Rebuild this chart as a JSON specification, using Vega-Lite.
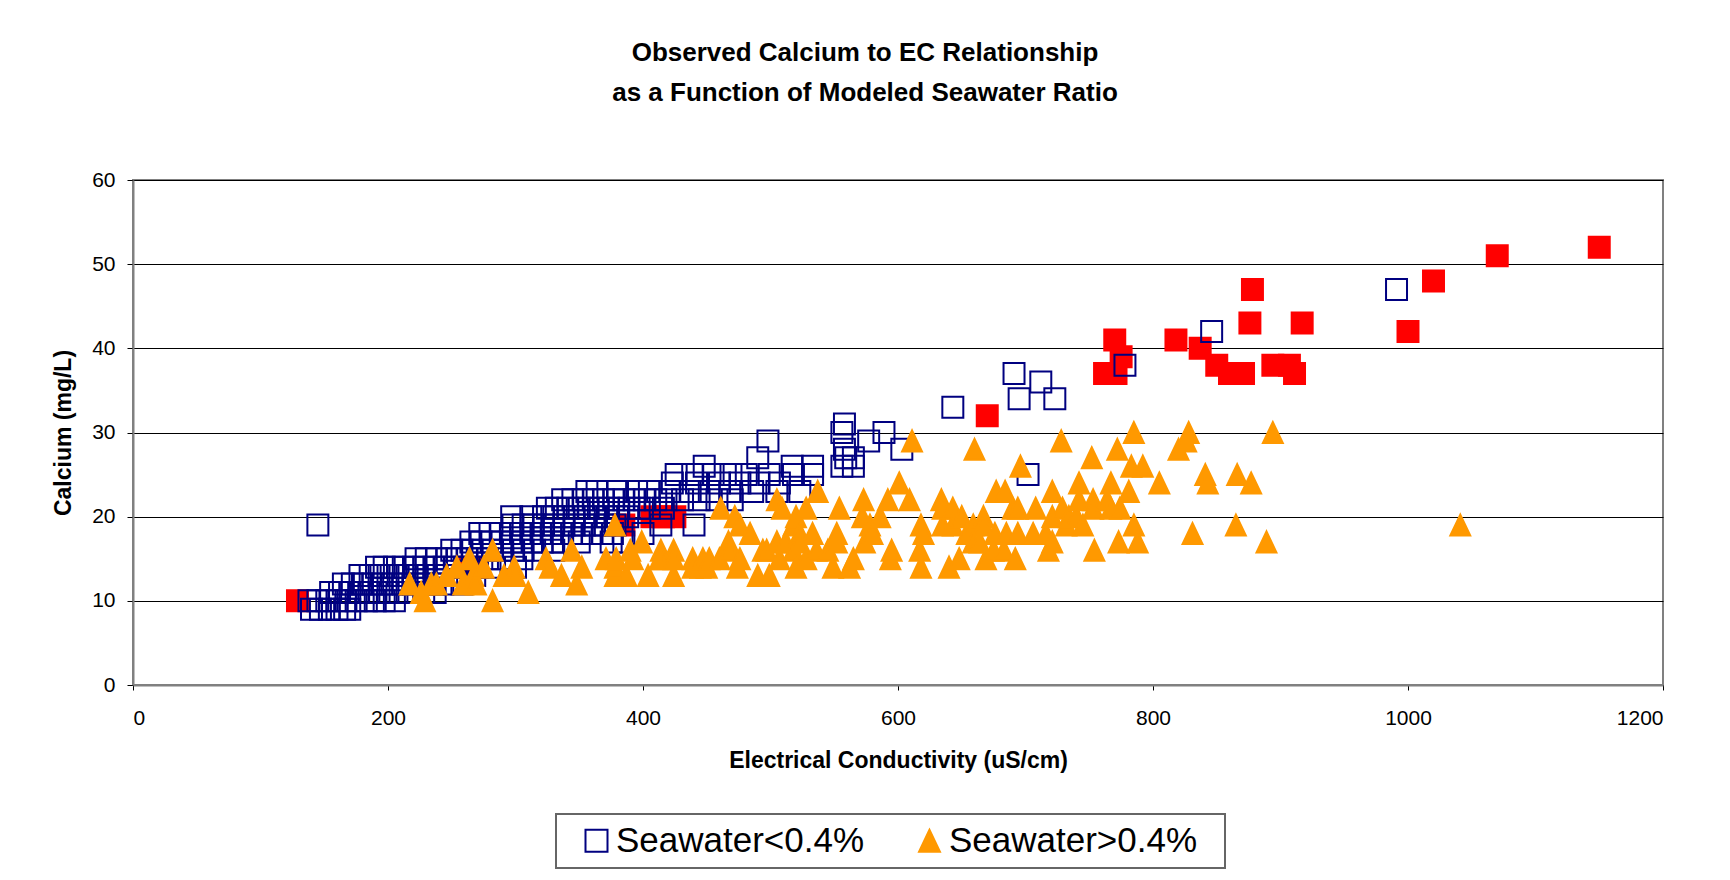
{
  "$schema": "https://vega.github.io/schema/vega-lite/v6.json",
  "width": 1530,
  "height": 505,
  "autosize": {"type": "none"},
  "padding": {"left": 133, "top": 180, "right": 67, "bottom": 195},
  "background": "white",
  "title": {
    "text": ["Observed Calcium to EC Relationship", "as a Function of Modeled Seawater Ratio"],
    "font": "Liberation Sans", "fontSize": 26, "fontWeight": "bold", "color": "#000000",
    "anchor": "middle", "frame": "group", "lineHeight": 40, "dx": -33, "offset": 63
  },
  "data": {"values": [
    {"s":"Other","ec":129,"ca":10},{"s":"Other","ec":264,"ca":14},{"s":"Other","ec":385,"ca":19},{"s":"Other","ec":407,"ca":20},{"s":"Other","ec":416,"ca":20},{"s":"Other","ec":425,"ca":20},{"s":"Other","ec":670,"ca":32},{"s":"Other","ec":762,"ca":37},{"s":"Other","ec":771,"ca":37},{"s":"Other","ec":770,"ca":41},{"s":"Other","ec":775,"ca":39},{"s":"Other","ec":818,"ca":41},{"s":"Other","ec":837,"ca":40},{"s":"Other","ec":850,"ca":38},{"s":"Other","ec":860,"ca":37},{"s":"Other","ec":871,"ca":37},{"s":"Other","ec":876,"ca":43},{"s":"Other","ec":878,"ca":47},{"s":"Other","ec":894,"ca":38},{"s":"Other","ec":907,"ca":38},{"s":"Other","ec":911,"ca":37},{"s":"Other","ec":917,"ca":43},{"s":"Other","ec":1000,"ca":42},{"s":"Other","ec":1020,"ca":48},{"s":"Other","ec":1070,"ca":51},{"s":"Other","ec":1150,"ca":52},
    {"s":"Seawater<0.4%","ec":140,"ca":9},{"s":"Seawater<0.4%","ec":147,"ca":9},{"s":"Seawater<0.4%","ec":154,"ca":9},{"s":"Seawater<0.4%","ec":160,"ca":9},{"s":"Seawater<0.4%","ec":166,"ca":9},{"s":"Seawater<0.4%","ec":170,"ca":9},
    {"s":"Seawater<0.4%","ec":138,"ca":10},{"s":"Seawater<0.4%","ec":145,"ca":10},{"s":"Seawater<0.4%","ec":152,"ca":10},{"s":"Seawater<0.4%","ec":160,"ca":10},{"s":"Seawater<0.4%","ec":167,"ca":10},{"s":"Seawater<0.4%","ec":175,"ca":10},{"s":"Seawater<0.4%","ec":183,"ca":10},{"s":"Seawater<0.4%","ec":190,"ca":10},{"s":"Seawater<0.4%","ec":197,"ca":10},{"s":"Seawater<0.4%","ec":205,"ca":10},
    {"s":"Seawater<0.4%","ec":155,"ca":11},{"s":"Seawater<0.4%","ec":162,"ca":11},{"s":"Seawater<0.4%","ec":170,"ca":11},{"s":"Seawater<0.4%","ec":177,"ca":11},{"s":"Seawater<0.4%","ec":185,"ca":11},{"s":"Seawater<0.4%","ec":193,"ca":11},{"s":"Seawater<0.4%","ec":200,"ca":11},{"s":"Seawater<0.4%","ec":207,"ca":11},{"s":"Seawater<0.4%","ec":215,"ca":11},{"s":"Seawater<0.4%","ec":228,"ca":11},{"s":"Seawater<0.4%","ec":237,"ca":11},
    {"s":"Seawater<0.4%","ec":165,"ca":12},{"s":"Seawater<0.4%","ec":172,"ca":12},{"s":"Seawater<0.4%","ec":180,"ca":12},{"s":"Seawater<0.4%","ec":188,"ca":12},{"s":"Seawater<0.4%","ec":195,"ca":12},{"s":"Seawater<0.4%","ec":203,"ca":12},{"s":"Seawater<0.4%","ec":212,"ca":12},{"s":"Seawater<0.4%","ec":220,"ca":12},{"s":"Seawater<0.4%","ec":228,"ca":12},{"s":"Seawater<0.4%","ec":236,"ca":12},{"s":"Seawater<0.4%","ec":243,"ca":12},{"s":"Seawater<0.4%","ec":258,"ca":12},
    {"s":"Seawater<0.4%","ec":178,"ca":13},{"s":"Seawater<0.4%","ec":186,"ca":13},{"s":"Seawater<0.4%","ec":193,"ca":13},{"s":"Seawater<0.4%","ec":200,"ca":13},{"s":"Seawater<0.4%","ec":208,"ca":13},{"s":"Seawater<0.4%","ec":215,"ca":13},{"s":"Seawater<0.4%","ec":223,"ca":13},{"s":"Seawater<0.4%","ec":230,"ca":13},{"s":"Seawater<0.4%","ec":238,"ca":13},{"s":"Seawater<0.4%","ec":246,"ca":13},{"s":"Seawater<0.4%","ec":255,"ca":13},{"s":"Seawater<0.4%","ec":268,"ca":13},
    {"s":"Seawater<0.4%","ec":191,"ca":14},{"s":"Seawater<0.4%","ec":197,"ca":14},{"s":"Seawater<0.4%","ec":205,"ca":14},{"s":"Seawater<0.4%","ec":212,"ca":14},{"s":"Seawater<0.4%","ec":220,"ca":14},{"s":"Seawater<0.4%","ec":228,"ca":14},{"s":"Seawater<0.4%","ec":236,"ca":14},{"s":"Seawater<0.4%","ec":244,"ca":14},{"s":"Seawater<0.4%","ec":252,"ca":14},{"s":"Seawater<0.4%","ec":260,"ca":14},{"s":"Seawater<0.4%","ec":270,"ca":14},{"s":"Seawater<0.4%","ec":280,"ca":14},{"s":"Seawater<0.4%","ec":300,"ca":14},
    {"s":"Seawater<0.4%","ec":222,"ca":15},{"s":"Seawater<0.4%","ec":230,"ca":15},{"s":"Seawater<0.4%","ec":238,"ca":15},{"s":"Seawater<0.4%","ec":246,"ca":15},{"s":"Seawater<0.4%","ec":254,"ca":15},{"s":"Seawater<0.4%","ec":262,"ca":15},{"s":"Seawater<0.4%","ec":270,"ca":15},{"s":"Seawater<0.4%","ec":278,"ca":15},{"s":"Seawater<0.4%","ec":290,"ca":15},{"s":"Seawater<0.4%","ec":305,"ca":15},
    {"s":"Seawater<0.4%","ec":250,"ca":16},{"s":"Seawater<0.4%","ec":258,"ca":16},{"s":"Seawater<0.4%","ec":266,"ca":16},{"s":"Seawater<0.4%","ec":274,"ca":16},{"s":"Seawater<0.4%","ec":282,"ca":16},{"s":"Seawater<0.4%","ec":290,"ca":16},{"s":"Seawater<0.4%","ec":298,"ca":16},{"s":"Seawater<0.4%","ec":306,"ca":16},{"s":"Seawater<0.4%","ec":315,"ca":16},{"s":"Seawater<0.4%","ec":330,"ca":16},
    {"s":"Seawater<0.4%","ec":265,"ca":17},{"s":"Seawater<0.4%","ec":273,"ca":17},{"s":"Seawater<0.4%","ec":281,"ca":17},{"s":"Seawater<0.4%","ec":289,"ca":17},{"s":"Seawater<0.4%","ec":297,"ca":17},{"s":"Seawater<0.4%","ec":305,"ca":17},{"s":"Seawater<0.4%","ec":313,"ca":17},{"s":"Seawater<0.4%","ec":321,"ca":17},{"s":"Seawater<0.4%","ec":329,"ca":17},{"s":"Seawater<0.4%","ec":337,"ca":17},{"s":"Seawater<0.4%","ec":350,"ca":17},{"s":"Seawater<0.4%","ec":375,"ca":17},{"s":"Seawater<0.4%","ec":385,"ca":17},
    {"s":"Seawater<0.4%","ec":272,"ca":18},{"s":"Seawater<0.4%","ec":280,"ca":18},{"s":"Seawater<0.4%","ec":288,"ca":18},{"s":"Seawater<0.4%","ec":296,"ca":18},{"s":"Seawater<0.4%","ec":304,"ca":18},{"s":"Seawater<0.4%","ec":312,"ca":18},{"s":"Seawater<0.4%","ec":320,"ca":18},{"s":"Seawater<0.4%","ec":328,"ca":18},{"s":"Seawater<0.4%","ec":336,"ca":18},{"s":"Seawater<0.4%","ec":344,"ca":18},{"s":"Seawater<0.4%","ec":352,"ca":18},{"s":"Seawater<0.4%","ec":360,"ca":18},{"s":"Seawater<0.4%","ec":368,"ca":18},{"s":"Seawater<0.4%","ec":376,"ca":18},{"s":"Seawater<0.4%","ec":400,"ca":18},
    {"s":"Seawater<0.4%","ec":145,"ca":19},{"s":"Seawater<0.4%","ec":298,"ca":19},{"s":"Seawater<0.4%","ec":306,"ca":19},{"s":"Seawater<0.4%","ec":314,"ca":19},{"s":"Seawater<0.4%","ec":322,"ca":19},{"s":"Seawater<0.4%","ec":330,"ca":19},{"s":"Seawater<0.4%","ec":338,"ca":19},{"s":"Seawater<0.4%","ec":346,"ca":19},{"s":"Seawater<0.4%","ec":354,"ca":19},{"s":"Seawater<0.4%","ec":362,"ca":19},{"s":"Seawater<0.4%","ec":370,"ca":19},{"s":"Seawater<0.4%","ec":378,"ca":19},{"s":"Seawater<0.4%","ec":414,"ca":19},{"s":"Seawater<0.4%","ec":440,"ca":19},
    {"s":"Seawater<0.4%","ec":297,"ca":20},{"s":"Seawater<0.4%","ec":312,"ca":20},{"s":"Seawater<0.4%","ec":322,"ca":20},{"s":"Seawater<0.4%","ec":330,"ca":20},{"s":"Seawater<0.4%","ec":338,"ca":20},{"s":"Seawater<0.4%","ec":346,"ca":20},{"s":"Seawater<0.4%","ec":354,"ca":20},{"s":"Seawater<0.4%","ec":362,"ca":20},{"s":"Seawater<0.4%","ec":372,"ca":20},{"s":"Seawater<0.4%","ec":380,"ca":20},{"s":"Seawater<0.4%","ec":388,"ca":20},
    {"s":"Seawater<0.4%","ec":325,"ca":21},{"s":"Seawater<0.4%","ec":332,"ca":21},{"s":"Seawater<0.4%","ec":341,"ca":21},{"s":"Seawater<0.4%","ec":350,"ca":21},{"s":"Seawater<0.4%","ec":357,"ca":21},{"s":"Seawater<0.4%","ec":365,"ca":21},{"s":"Seawater<0.4%","ec":373,"ca":21},{"s":"Seawater<0.4%","ec":381,"ca":21},{"s":"Seawater<0.4%","ec":389,"ca":21},{"s":"Seawater<0.4%","ec":397,"ca":21},{"s":"Seawater<0.4%","ec":405,"ca":21},{"s":"Seawater<0.4%","ec":416,"ca":21},
    {"s":"Seawater<0.4%","ec":337,"ca":22},{"s":"Seawater<0.4%","ec":345,"ca":22},{"s":"Seawater<0.4%","ec":353,"ca":22},{"s":"Seawater<0.4%","ec":361,"ca":22},{"s":"Seawater<0.4%","ec":369,"ca":22},{"s":"Seawater<0.4%","ec":377,"ca":22},{"s":"Seawater<0.4%","ec":385,"ca":22},{"s":"Seawater<0.4%","ec":393,"ca":22},{"s":"Seawater<0.4%","ec":401,"ca":22},{"s":"Seawater<0.4%","ec":410,"ca":22},{"s":"Seawater<0.4%","ec":418,"ca":22},{"s":"Seawater<0.4%","ec":431,"ca":22},{"s":"Seawater<0.4%","ec":444,"ca":22},{"s":"Seawater<0.4%","ec":458,"ca":22},{"s":"Seawater<0.4%","ec":470,"ca":22},
    {"s":"Seawater<0.4%","ec":356,"ca":23},{"s":"Seawater<0.4%","ec":364,"ca":23},{"s":"Seawater<0.4%","ec":380,"ca":23},{"s":"Seawater<0.4%","ec":395,"ca":23},{"s":"Seawater<0.4%","ec":405,"ca":23},{"s":"Seawater<0.4%","ec":421,"ca":23},{"s":"Seawater<0.4%","ec":437,"ca":23},{"s":"Seawater<0.4%","ec":452,"ca":23},{"s":"Seawater<0.4%","ec":468,"ca":23},{"s":"Seawater<0.4%","ec":486,"ca":23},{"s":"Seawater<0.4%","ec":505,"ca":23},{"s":"Seawater<0.4%","ec":523,"ca":23},
    {"s":"Seawater<0.4%","ec":423,"ca":24},{"s":"Seawater<0.4%","ec":442,"ca":24},{"s":"Seawater<0.4%","ec":460,"ca":24},{"s":"Seawater<0.4%","ec":476,"ca":24},{"s":"Seawater<0.4%","ec":491,"ca":24},{"s":"Seawater<0.4%","ec":507,"ca":24},
    {"s":"Seawater<0.4%","ec":426,"ca":25},{"s":"Seawater<0.4%","ec":439,"ca":25},{"s":"Seawater<0.4%","ec":455,"ca":25},{"s":"Seawater<0.4%","ec":469,"ca":25},{"s":"Seawater<0.4%","ec":481,"ca":25},{"s":"Seawater<0.4%","ec":499,"ca":25},{"s":"Seawater<0.4%","ec":518,"ca":25},{"s":"Seawater<0.4%","ec":533,"ca":25},{"s":"Seawater<0.4%","ec":702,"ca":25},
    {"s":"Seawater<0.4%","ec":448,"ca":26},{"s":"Seawater<0.4%","ec":517,"ca":26},{"s":"Seawater<0.4%","ec":533,"ca":26},{"s":"Seawater<0.4%","ec":556,"ca":26},{"s":"Seawater<0.4%","ec":565,"ca":26},
    {"s":"Seawater<0.4%","ec":490,"ca":27},{"s":"Seawater<0.4%","ec":559,"ca":27},{"s":"Seawater<0.4%","ec":565,"ca":27},
    {"s":"Seawater<0.4%","ec":558,"ca":28},{"s":"Seawater<0.4%","ec":603,"ca":28},
    {"s":"Seawater<0.4%","ec":498,"ca":29},{"s":"Seawater<0.4%","ec":577,"ca":29},
    {"s":"Seawater<0.4%","ec":556,"ca":30},{"s":"Seawater<0.4%","ec":589,"ca":30},
    {"s":"Seawater<0.4%","ec":558,"ca":31},{"s":"Seawater<0.4%","ec":643,"ca":33},{"s":"Seawater<0.4%","ec":695,"ca":34},{"s":"Seawater<0.4%","ec":723,"ca":34},{"s":"Seawater<0.4%","ec":712,"ca":36},{"s":"Seawater<0.4%","ec":691,"ca":37},{"s":"Seawater<0.4%","ec":778,"ca":38},{"s":"Seawater<0.4%","ec":846,"ca":42},{"s":"Seawater<0.4%","ec":991,"ca":47},
    {"s":"Seawater>0.4%","ec":217,"ca":12},{"s":"Seawater>0.4%","ec":226,"ca":11},{"s":"Seawater>0.4%","ec":229,"ca":10},{"s":"Seawater>0.4%","ec":234,"ca":12},{"s":"Seawater>0.4%","ec":238,"ca":12},{"s":"Seawater>0.4%","ec":246,"ca":13},{"s":"Seawater>0.4%","ec":254,"ca":14},{"s":"Seawater>0.4%","ec":259,"ca":12},{"s":"Seawater>0.4%","ec":264,"ca":15},{"s":"Seawater>0.4%","ec":267,"ca":13},{"s":"Seawater>0.4%","ec":269,"ca":12},{"s":"Seawater>0.4%","ec":275,"ca":14},{"s":"Seawater>0.4%","ec":282,"ca":16},{"s":"Seawater>0.4%","ec":282,"ca":10},{"s":"Seawater>0.4%","ec":291,"ca":13},{"s":"Seawater>0.4%","ec":299,"ca":14},{"s":"Seawater>0.4%","ec":300,"ca":13},{"s":"Seawater>0.4%","ec":310,"ca":11},{"s":"Seawater>0.4%","ec":324,"ca":15},{"s":"Seawater>0.4%","ec":327,"ca":14},
    {"s":"Seawater>0.4%","ec":336,"ca":13},{"s":"Seawater>0.4%","ec":344,"ca":16},{"s":"Seawater>0.4%","ec":348,"ca":12},{"s":"Seawater>0.4%","ec":352,"ca":14},{"s":"Seawater>0.4%","ec":371,"ca":15},{"s":"Seawater>0.4%","ec":378,"ca":13},{"s":"Seawater>0.4%","ec":378,"ca":14},{"s":"Seawater>0.4%","ec":379,"ca":15},{"s":"Seawater>0.4%","ec":378,"ca":19},{"s":"Seawater>0.4%","ec":387,"ca":13},{"s":"Seawater>0.4%","ec":390,"ca":16},{"s":"Seawater>0.4%","ec":392,"ca":15},{"s":"Seawater>0.4%","ec":399,"ca":17},{"s":"Seawater>0.4%","ec":404,"ca":13},{"s":"Seawater>0.4%","ec":414,"ca":16},{"s":"Seawater>0.4%","ec":416,"ca":15},{"s":"Seawater>0.4%","ec":413,"ca":15},{"s":"Seawater>0.4%","ec":424,"ca":16},{"s":"Seawater>0.4%","ec":424,"ca":13},{"s":"Seawater>0.4%","ec":424,"ca":15},
    {"s":"Seawater>0.4%","ec":439,"ca":15},{"s":"Seawater>0.4%","ec":439,"ca":14},{"s":"Seawater>0.4%","ec":445,"ca":14},{"s":"Seawater>0.4%","ec":447,"ca":15},{"s":"Seawater>0.4%","ec":450,"ca":14},{"s":"Seawater>0.4%","ec":452,"ca":15},{"s":"Seawater>0.4%","ec":460,"ca":15},{"s":"Seawater>0.4%","ec":461,"ca":21},{"s":"Seawater>0.4%","ec":467,"ca":17},{"s":"Seawater>0.4%","ec":468,"ca":16},{"s":"Seawater>0.4%","ec":472,"ca":20},{"s":"Seawater>0.4%","ec":474,"ca":14},{"s":"Seawater>0.4%","ec":476,"ca":15},{"s":"Seawater>0.4%","ec":476,"ca":19},{"s":"Seawater>0.4%","ec":484,"ca":18},{"s":"Seawater>0.4%","ec":490,"ca":13},{"s":"Seawater>0.4%","ec":494,"ca":16},{"s":"Seawater>0.4%","ec":497,"ca":16},{"s":"Seawater>0.4%","ec":499,"ca":13},{"s":"Seawater>0.4%","ec":505,"ca":17},
    {"s":"Seawater>0.4%","ec":505,"ca":22},{"s":"Seawater>0.4%","ec":507,"ca":15},{"s":"Seawater>0.4%","ec":509,"ca":21},{"s":"Seawater>0.4%","ec":512,"ca":17},{"s":"Seawater>0.4%","ec":518,"ca":16},{"s":"Seawater>0.4%","ec":518,"ca":19},{"s":"Seawater>0.4%","ec":520,"ca":20},{"s":"Seawater>0.4%","ec":520,"ca":14},{"s":"Seawater>0.4%","ec":523,"ca":18},{"s":"Seawater>0.4%","ec":523,"ca":17},{"s":"Seawater>0.4%","ec":528,"ca":21},{"s":"Seawater>0.4%","ec":528,"ca":15},{"s":"Seawater>0.4%","ec":533,"ca":18},{"s":"Seawater>0.4%","ec":536,"ca":16},{"s":"Seawater>0.4%","ec":537,"ca":23},{"s":"Seawater>0.4%","ec":545,"ca":16},{"s":"Seawater>0.4%","ec":549,"ca":14},{"s":"Seawater>0.4%","ec":552,"ca":17},{"s":"Seawater>0.4%","ec":552,"ca":18},{"s":"Seawater>0.4%","ec":554,"ca":21},
    {"s":"Seawater>0.4%","ec":562,"ca":14},{"s":"Seawater>0.4%","ec":565,"ca":15},{"s":"Seawater>0.4%","ec":572,"ca":20},{"s":"Seawater>0.4%","ec":573,"ca":22},{"s":"Seawater>0.4%","ec":574,"ca":17},{"s":"Seawater>0.4%","ec":578,"ca":19},{"s":"Seawater>0.4%","ec":580,"ca":18},{"s":"Seawater>0.4%","ec":586,"ca":20},{"s":"Seawater>0.4%","ec":592,"ca":22},{"s":"Seawater>0.4%","ec":594,"ca":15},{"s":"Seawater>0.4%","ec":595,"ca":16},{"s":"Seawater>0.4%","ec":601,"ca":24},{"s":"Seawater>0.4%","ec":609,"ca":22},{"s":"Seawater>0.4%","ec":611,"ca":29},{"s":"Seawater>0.4%","ec":617,"ca":16},{"s":"Seawater>0.4%","ec":618,"ca":14},{"s":"Seawater>0.4%","ec":618,"ca":19},{"s":"Seawater>0.4%","ec":620,"ca":18},{"s":"Seawater>0.4%","ec":634,"ca":22},{"s":"Seawater>0.4%","ec":635,"ca":19},
    {"s":"Seawater>0.4%","ec":635,"ca":21},{"s":"Seawater>0.4%","ec":640,"ca":14},{"s":"Seawater>0.4%","ec":643,"ca":21},{"s":"Seawater>0.4%","ec":643,"ca":19},{"s":"Seawater>0.4%","ec":648,"ca":15},{"s":"Seawater>0.4%","ec":650,"ca":20},{"s":"Seawater>0.4%","ec":654,"ca":18},{"s":"Seawater>0.4%","ec":659,"ca":19},{"s":"Seawater>0.4%","ec":659,"ca":17},{"s":"Seawater>0.4%","ec":660,"ca":28},{"s":"Seawater>0.4%","ec":664,"ca":17},{"s":"Seawater>0.4%","ec":667,"ca":20},{"s":"Seawater>0.4%","ec":667,"ca":19},{"s":"Seawater>0.4%","ec":669,"ca":15},{"s":"Seawater>0.4%","ec":675,"ca":16},{"s":"Seawater>0.4%","ec":676,"ca":18},{"s":"Seawater>0.4%","ec":677,"ca":23},{"s":"Seawater>0.4%","ec":683,"ca":16},{"s":"Seawater>0.4%","ec":684,"ca":23},{"s":"Seawater>0.4%","ec":685,"ca":18},
    {"s":"Seawater>0.4%","ec":690,"ca":21},{"s":"Seawater>0.4%","ec":692,"ca":15},{"s":"Seawater>0.4%","ec":694,"ca":18},{"s":"Seawater>0.4%","ec":694,"ca":21},{"s":"Seawater>0.4%","ec":696,"ca":26},{"s":"Seawater>0.4%","ec":706,"ca":18},{"s":"Seawater>0.4%","ec":708,"ca":21},{"s":"Seawater>0.4%","ec":716,"ca":18},{"s":"Seawater>0.4%","ec":718,"ca":16},{"s":"Seawater>0.4%","ec":721,"ca":20},{"s":"Seawater>0.4%","ec":721,"ca":23},{"s":"Seawater>0.4%","ec":721,"ca":17},{"s":"Seawater>0.4%","ec":728,"ca":29},{"s":"Seawater>0.4%","ec":729,"ca":21},{"s":"Seawater>0.4%","ec":732,"ca":19},{"s":"Seawater>0.4%","ec":734,"ca":20},{"s":"Seawater>0.4%","ec":740,"ca":20},{"s":"Seawater>0.4%","ec":742,"ca":24},{"s":"Seawater>0.4%","ec":742,"ca":22},{"s":"Seawater>0.4%","ec":745,"ca":19},
    {"s":"Seawater>0.4%","ec":752,"ca":27},{"s":"Seawater>0.4%","ec":753,"ca":22},{"s":"Seawater>0.4%","ec":753,"ca":21},{"s":"Seawater>0.4%","ec":754,"ca":16},{"s":"Seawater>0.4%","ec":764,"ca":22},{"s":"Seawater>0.4%","ec":767,"ca":24},{"s":"Seawater>0.4%","ec":767,"ca":21},{"s":"Seawater>0.4%","ec":772,"ca":28},{"s":"Seawater>0.4%","ec":773,"ca":17},{"s":"Seawater>0.4%","ec":774,"ca":21},{"s":"Seawater>0.4%","ec":781,"ca":23},{"s":"Seawater>0.4%","ec":783,"ca":26},{"s":"Seawater>0.4%","ec":785,"ca":30},{"s":"Seawater>0.4%","ec":785,"ca":19},{"s":"Seawater>0.4%","ec":788,"ca":17},{"s":"Seawater>0.4%","ec":792,"ca":26},{"s":"Seawater>0.4%","ec":805,"ca":24},{"s":"Seawater>0.4%","ec":820,"ca":28},{"s":"Seawater>0.4%","ec":826,"ca":29},{"s":"Seawater>0.4%","ec":828,"ca":30},
    {"s":"Seawater>0.4%","ec":831,"ca":18},{"s":"Seawater>0.4%","ec":841,"ca":25},{"s":"Seawater>0.4%","ec":843,"ca":24},{"s":"Seawater>0.4%","ec":865,"ca":19},{"s":"Seawater>0.4%","ec":866,"ca":25},{"s":"Seawater>0.4%","ec":877,"ca":24},{"s":"Seawater>0.4%","ec":889,"ca":17},{"s":"Seawater>0.4%","ec":894,"ca":30},{"s":"Seawater>0.4%","ec":1041,"ca":19}
  ]},
  "mark": {"type": "point", "size": 440, "strokeWidth": 2, "opacity": 1},
  "encoding": {
    "x": {
      "field": "ec", "type": "quantitative",
      "scale": {"domain": [0, 1200], "nice": false, "zero": true},
      "axis": {"title": "Electrical Conductivity (uS/cm)", "values": [0, 200, 400, 600, 800, 1000, 1200], "format": "d", "grid": false, "tickSize": 5, "labelPadding": 17, "titlePadding": 21}
    },
    "y": {
      "field": "ca", "type": "quantitative",
      "scale": {"domain": [0, 60], "nice": false},
      "axis": {"title": "Calcium (mg/L)", "values": [0, 10, 20, 30, 40, 50, 60], "format": "d", "grid": true, "gridColor": "#000000", "gridWidth": 1, "tickSize": 6, "labelPadding": 12, "titlePadding": 16}
    },
    "shape": {
      "field": "s", "type": "nominal",
      "scale": {"domain": ["Seawater<0.4%", "Seawater>0.4%", "Other"], "range": ["square", "M0,-1L-0.95,1L0.95,1Z", "square"]},
      "legend": {"title": " ", "values": ["Seawater<0.4%", "Seawater>0.4%"], "orient": "none", "legendX": 423, "legendY": 634, "direction": "horizontal", "columns": 2}
    },
    "fill": {
      "field": "s", "type": "nominal",
      "scale": {"domain": ["Seawater<0.4%", "Seawater>0.4%", "Other"], "range": ["transparent", "#FF9900", "#FF0000"]},
      "legend": {"title": " ", "values": ["Seawater<0.4%", "Seawater>0.4%"], "orient": "none", "legendX": 423, "legendY": 634, "direction": "horizontal", "columns": 2}
    },
    "stroke": {
      "field": "s", "type": "nominal",
      "scale": {"domain": ["Seawater<0.4%", "Seawater>0.4%", "Other"], "range": ["#000080", "#FF9900", "#FF0000"]},
      "legend": {"title": " ", "values": ["Seawater<0.4%", "Seawater>0.4%"], "orient": "none", "legendX": 423, "legendY": 634, "direction": "horizontal", "columns": 2}
    }
  },
  "config": {
    "view": {"stroke": "#808080", "strokeWidth": 2},
    "axis": {
      "labelFont": "Liberation Sans", "labelFontSize": 21, "labelColor": "#000000",
      "titleFont": "Liberation Sans", "titleFontSize": 23, "titleFontWeight": "bold", "titleColor": "#000000",
      "domainColor": "#808080", "domainWidth": 2, "tickColor": "#000000", "tickWidth": 1
    },
    "legend": {
      "labelFont": "Liberation Sans", "labelFontSize": 35, "labelColor": "#000000", "labelLimit": 400,
      "symbolSize": 484, "symbolStrokeWidth": 2, "labelOffset": 2, "symbolOffset": 14,
      "padding": 9, "strokeColor": "#666666", "strokeWidth": 2, "fillColor": "#FFFFFF", "columnPadding": 33,
      "titleOrient": "right", "titlePadding": 19, "titleFont": "Liberation Sans", "titleFontSize": 35
    }
  }
}
